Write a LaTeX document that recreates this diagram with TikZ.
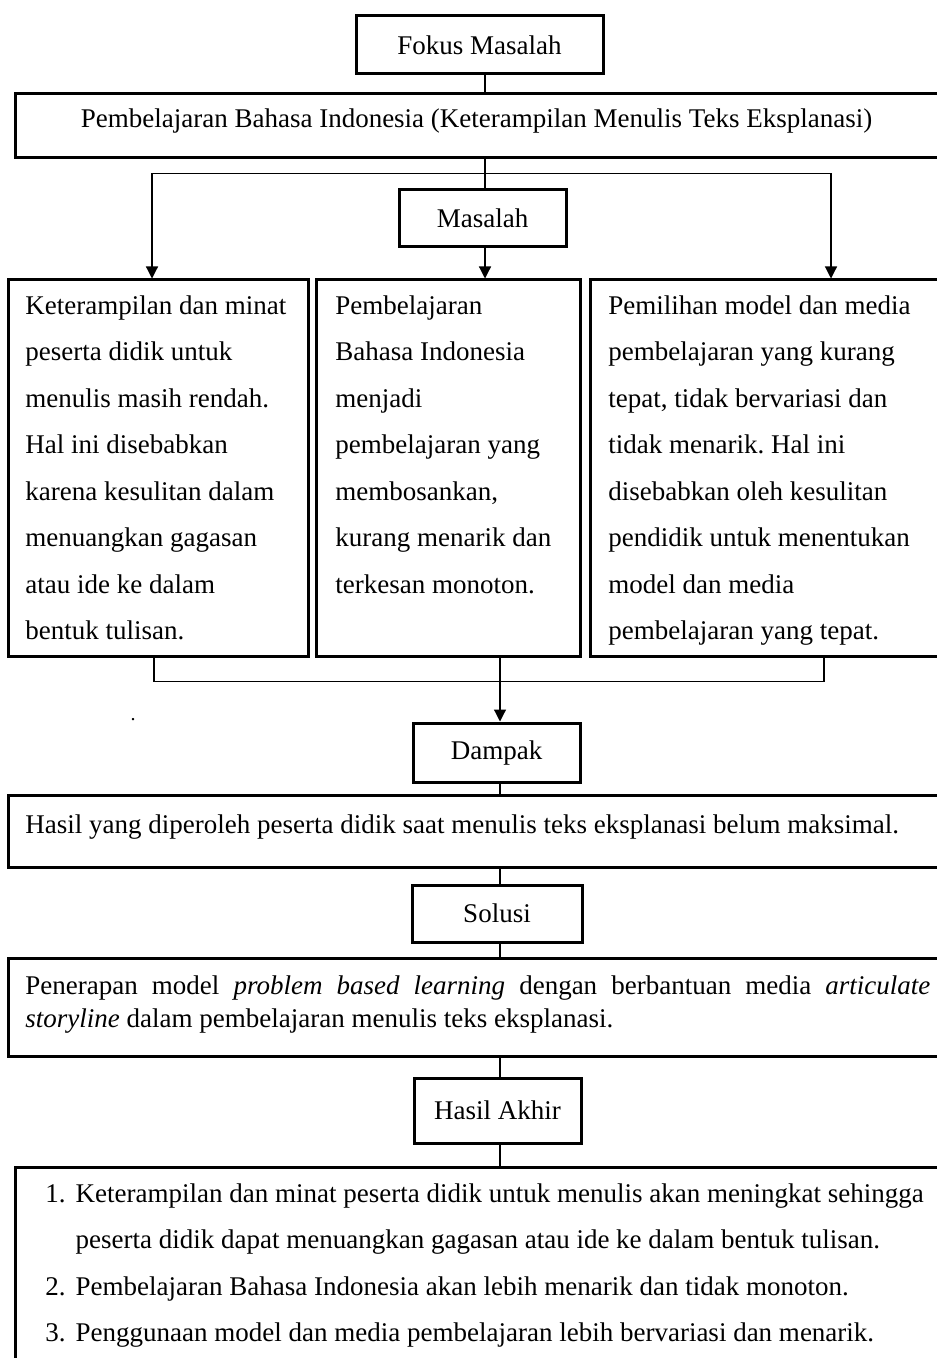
\documentclass[tikz,border=0pt]{standalone}
\usepackage{fontspec}
\setmainfont{Liberation Serif}
\usetikzlibrary{arrows.meta}
\frenchspacing
\begin{document}
\begin{tikzpicture}[x=0.5pt,y=-0.5pt,
  box/.style={draw,line width=1.5pt,inner sep=0pt},
  conn/.style={line width=0.6pt},
  arr/.style={conn,-{Triangle[width=6pt,length=6pt]}},
  txt/.style={inner sep=0pt,font=\fontsize{13.5}{23.25}\selectfont\frenchspacing},
]
\path[use as bounding box,fill=white] (0,0) rectangle (936,1358);

% boxes
\node[box,txt,minimum width=123.5pt,minimum height=29pt] (fokus) at (479.5,45) {Fokus Masalah};
\node[box,minimum width=465pt,minimum height=32pt] (pbi) at (480,126) {};
\node[txt,anchor=base] (tpbi) at (476.5,128) {Pembelajaran Bahasa Indonesia (Keterampilan Menulis Teks Eksplanasi)};
\node[box,txt,minimum width=83.5pt,minimum height=28.5pt] (masalah) at (482.5,218.5) {Masalah};

\node[box,minimum width=150pt,minimum height=188pt] (boxA) at (158,468) {};
\node[box,minimum width=132pt,minimum height=188pt] (boxB) at (448,468) {};
\node[box,minimum width=177.5pt,minimum height=188pt] (boxC) at (767.5,468) {};

\node[txt,align=left,anchor=north west] (tA) at (25,295) {Keterampilan dan minat\\peserta didik untuk\\menulis masih rendah.\\Hal ini disebabkan\\karena kesulitan dalam\\menuangkan gagasan\\atau ide ke dalam\\bentuk tulisan.};
\node[txt,align=left,anchor=north west] (tB) at (335,295) {Pembelajaran\\Bahasa Indonesia\\menjadi\\pembelajaran yang\\membosankan,\\kurang menarik dan\\terkesan monoton.};
\node[txt,align=left,anchor=north west] (tC) at (608,295) {Pemilihan model dan media\\pembelajaran yang kurang\\tepat, tidak bervariasi dan\\tidak menarik. Hal ini\\disebabkan oleh kesulitan\\pendidik untuk menentukan\\model dan media\\pembelajaran yang tepat.};

\node[inner sep=0pt,font=\fontsize{10}{10}\selectfont] (dot) at (133,720) {.};

\node[box,txt,minimum width=83.5pt,minimum height=29.5pt] (dampak) at (496.5,752.5) {Dampak};
\node[box,minimum width=468.5pt,minimum height=36pt] (hasil) at (476.5,831) {};
\node[txt,anchor=base west] (thasil) at (25,833) {Hasil yang diperoleh peserta didik saat menulis teks eksplanasi belum maksimal.};

\node[box,txt,minimum width=85pt,minimum height=28.5pt] (solusi) at (497,913.5) {Solusi};
\node[box,minimum width=468.5pt,minimum height=49pt] (penerapan) at (476.5,1007) {};
\node[txt,anchor=north west,text width=452.5pt,align=justify,font=\fontsize{13.5}{16.5}\selectfont\frenchspacing] (tpen) at (25,975) {Penerapan model \textit{problem based learning} dengan berbantuan media \textit{articulate} \mbox{\textit{storyline}} dalam pembelajaran menulis teks eksplanasi.};

\node[box,txt,minimum width=83.5pt,minimum height=32.5pt] (akhir) at (497.5,1110.5) {Hasil Akhir};
\node[box,minimum width=465pt,minimum height=106.5pt] (final) at (480,1273.5) {};
\node[txt,anchor=base west] (tlist) at (45,1202) {\begin{tabular}[t]{@{}l@{\hspace{5pt}}l@{}}
1. & Keterampilan dan minat peserta didik untuk menulis akan meningkat sehingga\\
 & peserta didik dapat menuangkan gagasan atau ide ke dalam bentuk tulisan.\\
2. & Pembelajaran Bahasa Indonesia akan lebih menarik dan tidak monoton.\\
3. & Penggunaan model dan media pembelajaran lebih bervariasi dan menarik.
\end{tabular}};

% connectors
\draw[conn] ([xshift=2.75pt]fokus.south) -- ([xshift=2.75pt]fokus.south |- pbi.north);
\draw[conn] ([xshift=1.25pt]masalah.north |- pbi.south) -- ([xshift=1.25pt]masalah.north);
\draw[arr] ([xshift=1.25pt]masalah.north |- pbi.south) ++(0,-7pt) -| ([xshift=-3pt]boxA.north);
\draw[arr] ([xshift=1.25pt]masalah.north |- pbi.south) ++(0,-7pt) -| ([xshift=31.75pt]boxC.north);
\draw[arr] ([xshift=1.25pt]masalah.south) -- ([xshift=1.25pt]masalah.south |- boxB.north);

\draw[conn] ([xshift=-2pt]boxA.south) -- ++(0,-12pt) -| ([xshift=28.25pt]boxC.south);
\draw[arr] ([xshift=26pt]boxB.south) -- ([xshift=1.75pt]dampak.north);
\draw[conn] ([xshift=1.75pt]dampak.south) -- ([xshift=1.75pt]dampak.south |- hasil.north);
\draw[conn] ([xshift=1.5pt]solusi.north |- hasil.south) -- ([xshift=1.5pt]solusi.north);
\draw[conn] ([xshift=1.5pt]solusi.south) -- ([xshift=1.5pt]solusi.south |- penerapan.north);
\draw[conn] ([xshift=1.25pt]akhir.north |- penerapan.south) -- ([xshift=1.25pt]akhir.north);
\draw[conn] ([xshift=1.25pt]akhir.south) -- ([xshift=1.25pt]akhir.south |- final.north);
\end{tikzpicture}
\end{document}
